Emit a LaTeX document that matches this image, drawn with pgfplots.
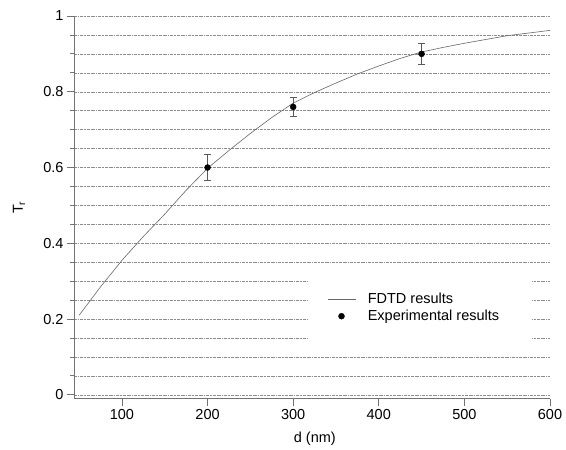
\documentclass[border=0pt]{standalone}
\usepackage{pgfplots}
\pgfplotsset{compat=1.18}
\usepackage{fontspec}
\setmainfont{Liberation Sans}
\begin{document}
\begin{tikzpicture}
\begin{axis}[
  scale only axis,
  width=476pt, height=383pt,
  xmin=44, xmax=600,
  ymin=-0.011, ymax=1,
  axis x line*=bottom, axis y line*=left,
  axis line style={black!55, line width=1pt},
  xtick={100,200,300,400,500,600},
  ytick={0,0.2,0.4,0.6,0.8,1},
  minor y tick num=3,
  tick align=outside,
  major tick length=7pt, minor tick length=4pt,
  tick style={black!55, line width=0.8pt},
  ymajorgrids, yminorgrids,
  major grid style={black!45, line width=0.45pt, dash pattern=on 1.5pt off 0.8pt on 0.5pt off 0.8pt},
  minor grid style={black!45, line width=0.45pt, dash pattern=on 1.5pt off 0.8pt on 0.5pt off 0.8pt},
  /pgf/number format/assume math mode=true,
  tick label style={font=\fontsize{14.5}{17}\selectfont},
  yticklabel style={/pgf/number format/fixed},
  xlabel={d (nm)},
  ylabel={T\textsubscript{r}},
  every axis x label/.style={at={(axis description cs:0.506,-0.1044)}, anchor=center, font=\fontsize{14.5}{17}\selectfont},
  every axis y label/.style={at={(axis description cs:-0.1155,0.5)}, rotate=90, anchor=center, font=\fontsize{14.5}{17}\selectfont},
  legend image code/.code={\draw[mark repeat=2,mark phase=2,#1] plot coordinates {(0pt,0pt) (14pt,0pt) (28pt,0pt)};},
  legend cell align=left,
  legend style={draw=none, fill=white, at={(axis description cs:0.4916,0.3316)}, anchor=north west,
    inner xsep=19pt, inner ysep=19pt, row sep=1pt, column sep=10pt,
    nodes={inner sep=2pt},
    font=\fontsize{14.5}{17}\selectfont},
]
\addplot[black!60, line width=0.6pt, mark=none] coordinates {
(50,0.21) (75,0.285) (100,0.355) (125,0.418) (150,0.477) (175,0.54)
(200,0.598) (225,0.645) (250,0.69) (275,0.732) (300,0.77) (325,0.798)
(350,0.823) (375,0.847) (400,0.868) (425,0.888) (450,0.905) (475,0.917)
(500,0.928) (525,0.938) (550,0.948) (575,0.955) (600,0.962)
};
\addlegendentry{\makebox[143pt][l]{FDTD results}}
\addplot[only marks, mark=*, mark size=3pt, black,
  error bars/.cd, y dir=both, y explicit,
  error bar style={black!65, line width=0.6pt},
  error mark options={rotate=90, mark size=3.5pt, black!65, line width=0.6pt}]
  coordinates {
  (200,0.60) +- (0,0.035)
  (300,0.76) +- (0,0.025)
  (450,0.90) +- (0,0.027)
};
\addlegendentry{\makebox[143pt][l]{Experimental results}}
\end{axis}
\path ([xshift=-74pt,yshift=-48pt]current axis.south west) rectangle ([xshift=16pt,yshift=16pt]current axis.north east);
\end{tikzpicture}
\end{document}
